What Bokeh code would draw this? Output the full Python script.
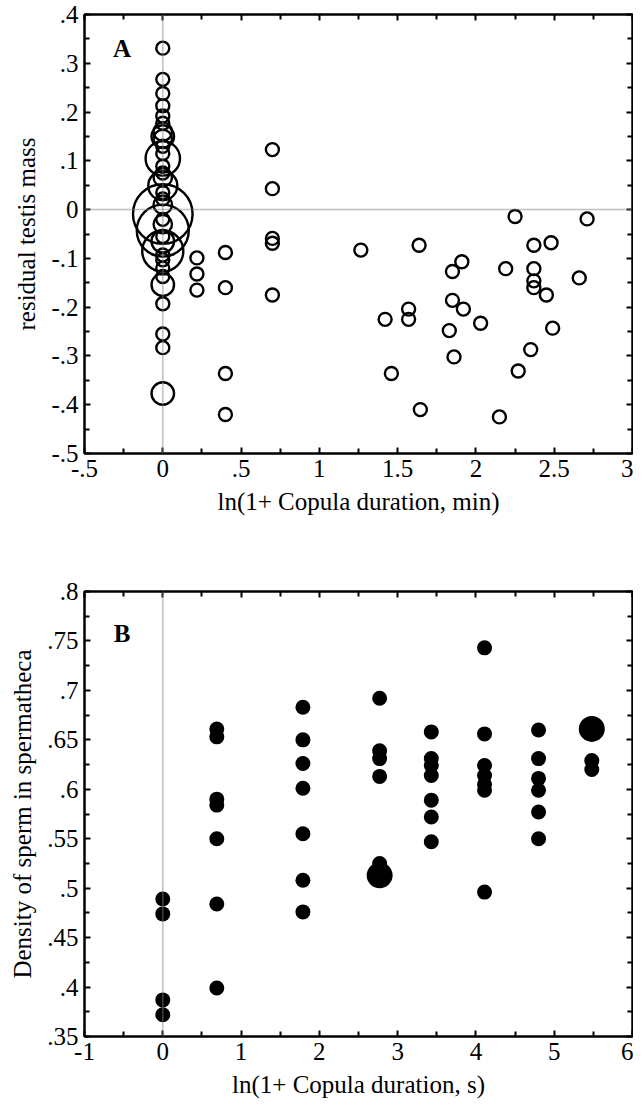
from bokeh.plotting import figure
from bokeh.layouts import column
from bokeh.models import Span, LinearAxis, FixedTicker, Label, Range1d, ColumnDataSource
from bokeh.embed import file_html
from bokeh.resources import INLINE
import math

# ---------------- Panel A data ----------------
# points at copula duration 0 (ln scale x = 0), with overlap counts
a0_y = [0.331, 0.267, 0.238, 0.213, 0.192, 0.177, 0.160, 0.150, 0.145, 0.130,
        0.115, 0.105, 0.089, 0.075, 0.066, 0.049, 0.035, 0.022, 0.010, -0.009,
        -0.020, -0.030, -0.043, -0.055, -0.065, -0.085, -0.093, -0.103, -0.120,
        -0.137, -0.154, -0.193, -0.255, -0.283, -0.377]
a0_n = [1, 1, 1, 1, 1, 1, 2, 3, 2, 1,
        1, 7, 1, 1, 2, 5, 1, 1, 2, 21,
        1, 2, 16, 1, 3, 10, 1, 1, 1,
        1, 3, 1, 1, 1, 3]
a_x = [0.218, 0.218, 0.218, 0.40, 0.40, 0.40, 0.40, 0.70, 0.70, 0.70, 0.70, 0.70,
       1.265, 1.637, 1.42, 1.57, 1.57, 1.46, 1.645, 1.91, 1.85, 1.85, 1.92, 1.83,
       2.03, 1.86, 2.19, 2.25, 2.37, 2.48, 2.37, 2.37, 2.37, 2.45, 2.66, 2.71,
       2.49, 2.35, 2.27, 2.15]
a_y = [-0.099, -0.132, -0.165, -0.088, -0.160, -0.336, -0.420, 0.123, 0.043, -0.059, -0.069, -0.175,
       -0.083, -0.073, -0.225, -0.204, -0.225, -0.336, -0.410, -0.107, -0.127, -0.186, -0.204, -0.248,
       -0.233, -0.302, -0.121, -0.014, -0.073, -0.068, -0.121, -0.146, -0.160, -0.175, -0.140, -0.019,
       -0.243, -0.287, -0.331, -0.425]

a_xticks = [-0.5, 0, 0.5, 1, 1.5, 2, 2.5, 3]
a_xlabels = ["-.5", "0", ".5", "1", "1.5", "2", "2.5", "3"]
a_yticks = [0.4, 0.3, 0.2, 0.1, 0, -0.1, -0.2, -0.3, -0.4, -0.5]
a_ylabels = [".4", ".3", ".2", ".1", "0", "-.1", "-.2", "-.3", "-.4", "-.5"]

# ---------------- Panel B data ----------------
b_x = [0, 0, 0, 0,
       0.69, 0.69, 0.69, 0.69, 0.69, 0.69, 0.69,
       1.79, 1.79, 1.79, 1.79, 1.79, 1.79, 1.79,
       2.77, 2.77, 2.77, 2.77, 2.77, 2.77,
       3.43, 3.43, 3.43, 3.43, 3.43, 3.43, 3.43,
       4.11, 4.11, 4.11, 4.11, 4.11, 4.11, 4.11,
       4.80, 4.80, 4.80, 4.80, 4.80, 4.80,
       5.48, 5.48, 5.48]
b_y = [0.489, 0.474, 0.387, 0.372,
       0.661, 0.653, 0.590, 0.584, 0.550, 0.484, 0.399,
       0.683, 0.650, 0.626, 0.601, 0.555, 0.508, 0.476,
       0.692, 0.639, 0.631, 0.613, 0.525, 0.513,
       0.658, 0.631, 0.624, 0.614, 0.589, 0.572, 0.547,
       0.743, 0.656, 0.624, 0.614, 0.605, 0.599, 0.496,
       0.660, 0.631, 0.611, 0.599, 0.577, 0.550,
       0.661, 0.629, 0.620]
b_n = [1, 1, 1, 1,
       1, 1, 1, 1, 1, 1, 1,
       1, 1, 1, 1, 1, 1, 1,
       1, 1, 1, 1, 1, 3,
       1, 1, 1, 1, 1, 1, 1,
       1, 1, 1, 1, 1, 1, 1,
       1, 1, 1, 1, 1, 1,
       3, 1, 1]

b_xticks = [-1, 0, 1, 2, 3, 4, 5, 6]
b_xlabels = ["-1", "0", "1", "2", "3", "4", "5", "6"]
b_yticks = [0.35, 0.4, 0.45, 0.5, 0.55, 0.6, 0.65, 0.7, 0.75, 0.8]
b_ylabels = [".35", ".4", ".45", ".5", ".55", ".6", ".65", ".7", ".75", ".8"]

FONT = "Liberation Serif"
TICK_FS = "25px"
LABEL_FS = "25px"


def style_axes(p, xticks, xlabels, xminor, yticks, ylabels, yminor):
    xt = FixedTicker(ticks=xticks, minor_ticks=xminor)
    yt = FixedTicker(ticks=yticks, minor_ticks=yminor)
    for ax in p.xaxis:
        ax.ticker = xt
        ax.major_label_overrides = {t: l for t, l in zip(xticks, xlabels)}
    for ax in p.yaxis:
        ax.ticker = yt
        ax.major_label_overrides = {t: l for t, l in zip(yticks, ylabels)}
    top = LinearAxis(ticker=xt, major_label_text_font_size="0px", major_label_standoff=0,
                     major_label_text_color=None)
    right = LinearAxis(ticker=yt, major_label_text_font_size="0px", major_label_standoff=0,
                       major_label_text_color=None)
    p.add_layout(top, "above")
    p.add_layout(right, "right")
    for ax in p.axis:
        ax.axis_line_color = "black"
        ax.axis_line_width = 2
        ax.major_tick_in = 6
        ax.major_tick_out = 0
        ax.minor_tick_in = 5
        ax.minor_tick_out = 0
        ax.major_tick_line_width = 2
        ax.minor_tick_line_width = 2
        ax.major_tick_line_color = "black"
        ax.minor_tick_line_color = "black"
        ax.major_label_text_font = FONT
        ax.axis_label_text_font = FONT
        ax.axis_label_text_font_style = "normal"
        ax.axis_label_text_color = "black"
    for ax in list(p.below) + list(p.left):
        if isinstance(ax, LinearAxis):
            ax.major_label_text_color = "black"
            ax.major_label_text_font_size = TICK_FS
            ax.axis_label_text_font_size = LABEL_FS
            ax.major_label_standoff = 6
            ax.axis_label_standoff = 8
    p.xgrid.visible = False
    p.ygrid.visible = False
    p.outline_line_color = "black"
    p.outline_line_width = 2


# ---------------- Figure A ----------------
pa = figure(width=633, height=537, output_backend="svg", toolbar_location=None,
            x_range=Range1d(-0.5, 3), y_range=Range1d(-0.5, 0.4),
            min_border_left=84, min_border_right=1, min_border_top=14, min_border_bottom=84,
            x_axis_label="ln(1+ Copula duration, min)", y_axis_label="residual testis mass")
style_axes(pa, a_xticks, a_xlabels, [-0.25, 0.25, 0.75, 1.25, 1.75, 2.25, 2.75],
           a_yticks, a_ylabels, [0.35, 0.25, 0.15, 0.05, -0.05, -0.15, -0.25, -0.35, -0.45])
pa.xaxis[0].axis_label_standoff = 14

pa.add_layout(Span(location=0, dimension="height", line_color="#808080", line_width=1.5, line_dash="1 1"))
pa.add_layout(Span(location=0, dimension="width", line_color="#808080", line_width=1.5, line_dash="1 1"))

src_a0 = ColumnDataSource(dict(x=[0.0] * len(a0_y), y=a0_y,
                               s=[13 * math.sqrt(n) for n in a0_n]))
pa.scatter("x", "y", size="s", source=src_a0, fill_color=None, line_color="black", line_width=2.4)
pa.scatter(a_x, a_y, size=13, fill_color=None, line_color="black", line_width=2.4)
pa.add_layout(Label(x=-0.26, y=0.33, text="A", text_font=FONT, text_font_style="bold",
                    text_color="black", text_font_size="25px", text_align="center",
                    text_baseline="middle"))

# ---------------- Figure B ----------------
pb = figure(width=633, height=567, output_backend="svg", toolbar_location=None,
            x_range=Range1d(-1, 6), y_range=Range1d(0.35, 0.8),
            min_border_left=79, min_border_right=1, min_border_top=54, min_border_bottom=68,
            x_axis_label="ln(1+ Copula duration, s)", y_axis_label="Density of sperm in spermatheca")
style_axes(pb, b_xticks, b_xlabels, [-0.5, 0.5, 1.5, 2.5, 3.5, 4.5, 5.5],
           b_yticks, b_ylabels, [0.375, 0.425, 0.475, 0.525, 0.575, 0.625, 0.675, 0.725, 0.775])
pb.xaxis[0].axis_label_standoff = 10

pb.add_layout(Span(location=0, dimension="height", line_color="#808080", line_width=1.5, line_dash="1 1"))
src_b = ColumnDataSource(dict(x=b_x, y=b_y, s=[15 * math.sqrt(n) for n in b_n]))
pb.scatter("x", "y", size="s", source=src_b, fill_color="black", line_color="black", line_width=0)
pb.add_layout(Label(x=-0.52, y=0.758, text="B", text_font=FONT, text_font_style="bold",
                    text_color="black", text_font_size="25px", text_align="center",
                    text_baseline="middle"))

layout = column(pa, pb, spacing=0)
open("out.html", "w").write(file_html(layout, INLINE))
